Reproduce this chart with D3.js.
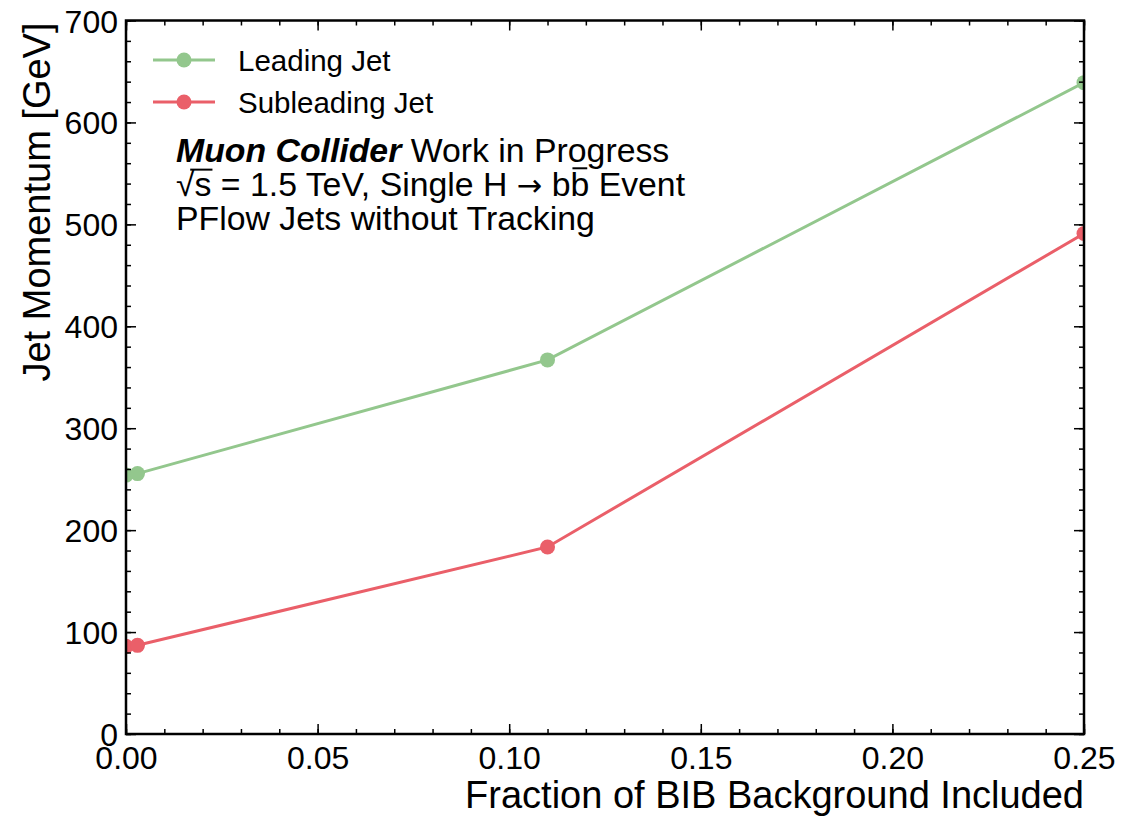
<!DOCTYPE html>
<html><head><meta charset="utf-8">
<script src="https://cdn.jsdelivr.net/npm/d3@7"></script>
<style>body{margin:0;background:#fff}svg{display:block}text{font-family:"Liberation Sans",Arial,sans-serif;fill:#000}</style>
</head><body><svg id="c" width="1121" height="819"></svg>
<script>
const bibFraction = [0, 0.003, 0.11, 0.25];
const leadingJet = [254, 255.5, 367, 639];
const subleadingJet = [86, 87, 183.5, 491];
const seriesNames = ["Leading Jet", "Subleading Jet"];
const seriesColors = ["#93c78d", "#ea5f69"];
const xTicks = [0, 0.05, 0.10, 0.15, 0.20, 0.25];
const yTicks = [0, 100, 200, 300, 400, 500, 600, 700];
const xLabel = "Fraction of BIB Background Included";
const yLabel = "Jet Momentum [GeV]";

const svg = d3.select("#c");
const L = 126, R = 1084, T = 20.5, B = 734;
const x = d3.scaleLinear().domain([0, 0.25]).range([L, R]);
const y = d3.scaleLinear().domain([0, 700]).range([B, T]);

svg.append("defs").append("clipPath").attr("id","clip")
  .append("rect").attr("x",L).attr("y",T).attr("width",R-L).attr("height",B-T);

const g = svg.append("g").attr("clip-path","url(#clip)");
const line = d3.line().x((d,i)=>x(bibFraction[i])).y(d=>y(d));
[leadingJet, subleadingJet].forEach((vals,k)=>{
  g.append("path").datum(vals).attr("d",line).attr("fill","none")
    .attr("stroke",seriesColors[k]).attr("stroke-width",3);
  g.selectAll(null).data(vals).enter().append("circle")
    .attr("cx",(d,i)=>x(bibFraction[i])).attr("cy",d=>y(d)).attr("r",7.5)
    .attr("fill",seriesColors[k]);
});

const fmtX = d3.format(".2f");
const xMinor = d3.range(0, 0.2501, 0.01);
const yMinor = d3.range(0, 701, 20);
function axisStyle(sel){ sel.select(".domain").remove(); sel.selectAll("line").attr("stroke","#000").attr("stroke-width",1.5); }
const axB = svg.append("g").attr("transform",`translate(0,${B})`)
  .call(d3.axisBottom(x).tickValues(xTicks).tickFormat(fmtX).tickSizeInner(-10).tickSizeOuter(0).tickPadding(12));
axB.call(axisStyle); axB.selectAll("text").attr("font-size",32).attr("dy","0.71em");
svg.append("g").attr("transform",`translate(0,${B})`).call(d3.axisBottom(x).tickValues(xMinor).tickFormat("").tickSizeInner(-5).tickSizeOuter(0)).call(axisStyle);
svg.append("g").attr("transform",`translate(0,${T})`).call(d3.axisTop(x).tickValues(xTicks).tickFormat("").tickSizeInner(-10).tickSizeOuter(0)).call(axisStyle);
svg.append("g").attr("transform",`translate(0,${T})`).call(d3.axisTop(x).tickValues(xMinor).tickFormat("").tickSizeInner(-5).tickSizeOuter(0)).call(axisStyle);

const axL = svg.append("g").attr("transform",`translate(${L},0)`)
  .call(d3.axisLeft(y).tickValues(yTicks).tickFormat(d3.format("d")).tickSizeInner(-10).tickSizeOuter(0).tickPadding(8));
axL.call(axisStyle); axL.selectAll("text").attr("font-size",32).attr("dy","0.36em");
svg.append("g").attr("transform",`translate(${L},0)`).call(d3.axisLeft(y).tickValues(yMinor).tickFormat("").tickSizeInner(-5).tickSizeOuter(0)).call(axisStyle);
svg.append("g").attr("transform",`translate(${R},0)`).call(d3.axisRight(y).tickValues(yTicks).tickFormat("").tickSizeInner(-10).tickSizeOuter(0)).call(axisStyle);
svg.append("g").attr("transform",`translate(${R},0)`).call(d3.axisRight(y).tickValues(yMinor).tickFormat("").tickSizeInner(-5).tickSizeOuter(0)).call(axisStyle);

svg.append("rect").attr("x",L).attr("y",T).attr("width",R-L).attr("height",B-T)
  .attr("fill","none").attr("stroke","#000").attr("stroke-width",2.5);

svg.append("text").attr("x",R).attr("y",808).attr("text-anchor","end").attr("font-size",38).text(xLabel);
svg.append("text").attr("transform",`translate(50,${T+2}) rotate(-90)`).attr("text-anchor","end").attr("font-size",38).text(yLabel);

seriesNames.forEach((name,k)=>{
  const ly = 60 + k*42;
  svg.append("line").attr("x1",153).attr("x2",215).attr("y1",ly).attr("y2",ly).attr("stroke",seriesColors[k]).attr("stroke-width",3);
  svg.append("circle").attr("cx",184).attr("cy",ly).attr("r",7.5).attr("fill",seriesColors[k]);
  svg.append("text").attr("x",238).attr("y",ly).attr("dy","0.36em").attr("font-size",29.5).text(name);
});

const ax = 176, fs = 33.8;
const t1 = svg.append("text").attr("x",ax).attr("y",162).attr("font-size",fs);
t1.append("tspan").attr("font-weight","bold").attr("font-style","italic").text("Muon Collider");
t1.append("tspan").text(" Work in Progress");
const t2 = svg.append("text").attr("x",ax).attr("y",196).attr("font-size",fs);
t2.append("tspan").text("√s = 1.5 TeV, Single H ");
t2.append("tspan").attr("font-family","DejaVu Sans").attr("font-size",fs*0.9).text("→");
t2.append("tspan").text(" bb Event");
const line2 = t2.text();
svg.append("text").attr("x",ax).attr("y",230).attr("font-size",fs).text("PFlow Jets without Tracking");
const n2 = t2.node();
const sIdx = line2.indexOf("s");
const bIdx = line2.indexOf("bb") + 1;
const rootStart = n2.getStartPositionOfChar(0).x;
const sEnd = n2.getEndPositionOfChar(sIdx).x;
svg.append("line").attr("x1",rootStart+fs*0.42).attr("x2",sEnd+1).attr("y1",196-fs*0.78).attr("y2",196-fs*0.78)
  .attr("stroke","#000").attr("stroke-width",2);
const bS = n2.getStartPositionOfChar(bIdx).x, bE = n2.getEndPositionOfChar(bIdx).x;
svg.append("line").attr("x1",bS+2).attr("x2",bE-2).attr("y1",196-fs*0.82).attr("y2",196-fs*0.82)
  .attr("stroke","#000").attr("stroke-width",2);
</script></body></html>
